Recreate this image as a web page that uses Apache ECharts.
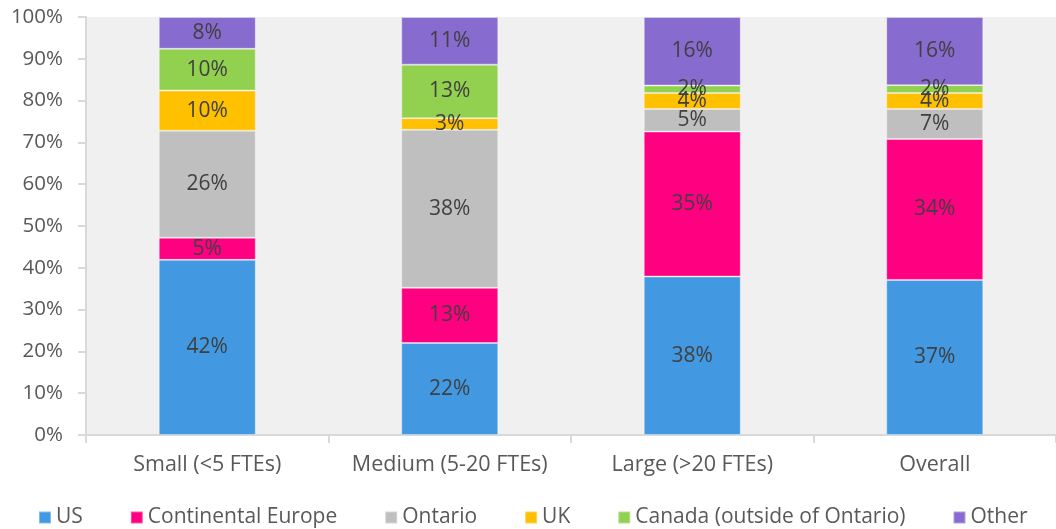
<!DOCTYPE html>
<html>
<head>
<meta charset="utf-8">
<script src="https://cdn.jsdelivr.net/npm/echarts@6/dist/echarts.min.js"></script>
<style>
  html, body { margin: 0; padding: 0; background: #fff; }
  #chart { width: 1056px; height: 529px; }
</style>
</head>
<body>
<div id="chart"></div>
<script>
const categories = ['Small (<5 FTEs)', 'Medium (5-20 FTEs)', 'Large (>20 FTEs)', 'Overall']
const us = [41.9, 22.0, 37.9, 37.1]
const continentalEurope = [5.3, 13.2, 34.7, 33.7]
const ontario = [25.6, 37.8, 5.4, 7.2]
const uk = [9.6, 2.8, 3.8, 3.8]
const canada = [10.0, 12.8, 1.8, 1.9]
const other = [7.6, 11.4, 16.4, 16.3]

const seriesDefs = [
    { name: 'US', data: us, color: '#4299e1' },
    { name: 'Continental Europe', data: continentalEurope, color: '#ff0080' },
    { name: 'Ontario', data: ontario, color: '#bfbfbf' },
    { name: 'UK', data: uk, color: '#ffc000' },
    { name: 'Canada (outside of Ontario)', data: canada, color: '#92d050' },
    { name: 'Other', data: other, color: '#886bce' }
]

const font = 'Open Sans'
const chart = echarts.init(document.getElementById('chart'))

chart.setOption({
    animation: false,
    textStyle: { fontFamily: font },
    grid: { left: 86, right: 0, top: 17, bottom: 94, show: true, backgroundColor: '#f0f0f0', borderWidth: 0 },
    legend: {
        left: 33,
        top: 502,
        itemWidth: 12,
        itemHeight: 12,
        itemGap: 47,
        icon: 'rect',
        textStyle: { fontSize: 21, color: '#595959', fontFamily: font },
        data: seriesDefs.map(s => s.name)
    },
    xAxis: {
        type: 'category',
        data: categories,
        axisLine: { lineStyle: { color: '#d9d9d9', width: 2 } },
        axisTick: { show: true, interval: 0, length: 8, lineStyle: { color: '#d9d9d9', width: 2 } },
        axisLabel: { interval: 0, fontSize: 21.5, color: '#595959', margin: 19 }
    },
    yAxis: {
        type: 'value',
        min: 0,
        max: 100,
        interval: 10,
        splitLine: { show: false },
        axisLine: { show: true, lineStyle: { color: '#d9d9d9', width: 2 } },
        axisTick: { show: true, length: 8, lineStyle: { color: '#d9d9d9', width: 2 } },
        axisLabel: { fontSize: 20.5, color: '#595959', margin: 23, formatter: '{value}%' }
    },
    series: seriesDefs.map(s => ({
        name: s.name,
        type: 'bar',
        stack: 'total',
        barWidth: '40%',
        data: s.data,
        itemStyle: { color: s.color, borderColor: 'rgba(255,255,255,0.35)', borderWidth: 1 },
        label: {
            show: true,
            position: 'inside',
            fontSize: 21,
            color: '#404040',
            fontFamily: font,
            formatter: p => Math.round(p.value) + '%'
        }
    }))
})
</script>
</body>
</html>
